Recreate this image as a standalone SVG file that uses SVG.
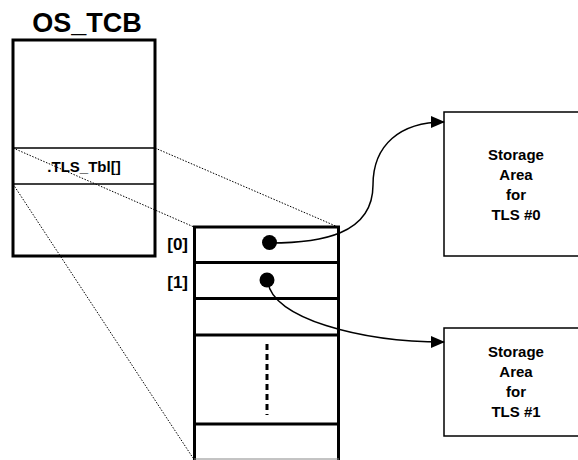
<svg xmlns="http://www.w3.org/2000/svg" width="578" height="460" viewBox="0 0 578 460">
<style>
text{font-family:"Liberation Sans",Arial,sans-serif;font-weight:bold;fill:#000}
.thick{fill:none;stroke:#000;stroke-width:3}
.thin{fill:none;stroke:#000;stroke-width:1.5}
.dot{fill:none;stroke:#000;stroke-width:1;stroke-dasharray:1.5 1.5}
.conn{fill:none;stroke:#000;stroke-width:1.5}
.lbl{font-size:15px;text-anchor:middle}
</style>
<defs>
<marker id="arr" markerWidth="14" markerHeight="12" refX="13" refY="6" orient="auto" markerUnits="userSpaceOnUse">
<path d="M0,0 L14,6 L0,12 Z" fill="#000"/>
</marker>
</defs>
<rect width="578" height="460" fill="#fff"/>
<g id="os_tcb">
<text x="87" y="32" font-size="27" text-anchor="middle">OS_TCB</text>
<rect class="thick" x="13" y="40" width="142" height="216"/>
<line class="thin" x1="13" y1="148" x2="155" y2="148"/>
<line class="thin" x1="13" y1="184" x2="155" y2="184"/>
<text x="84" y="172" font-size="15" text-anchor="middle">.TLS_Tbl[]</text>
</g>
<g id="zoom_lines">
<line class="dot" x1="13" y1="148" x2="194" y2="227"/>
<line class="dot" x1="155" y1="148" x2="338" y2="227"/>
<line class="dot" x1="13" y1="184" x2="193" y2="458"/>
</g>
<g id="tls_table">
<line class="thick" x1="194.5" y1="227" x2="194.5" y2="460"/>
<line class="thick" x1="338.5" y1="227" x2="338.5" y2="460"/>
<line class="thick" x1="193" y1="227" x2="340" y2="227"/>
<line class="thick" x1="194" y1="262.5" x2="339" y2="262.5"/>
<line class="thick" x1="194" y1="298.5" x2="339" y2="298.5"/>
<line class="thick" x1="194" y1="335" x2="339" y2="335"/>
<line class="thick" x1="194" y1="424" x2="339" y2="424"/>
<line x1="194" y1="459" x2="339" y2="459" stroke="#888" stroke-width="1"/>
<line x1="267" y1="344" x2="267" y2="415" stroke="#000" stroke-width="3" stroke-dasharray="6 4"/>
<text x="188" y="250" font-size="17" text-anchor="end">[0]</text>
<text x="188" y="288" font-size="17" text-anchor="end">[1]</text>
<circle cx="269.5" cy="242.5" r="7.5" fill="#000"/>
<circle cx="267" cy="280" r="7.5" fill="#000"/>
</g>
<g id="storage0">
<rect class="thin" x="444" y="112" width="140" height="144"/>
<text class="lbl" x="516" y="160">Storage</text>
<text class="lbl" x="516" y="180">Area</text>
<text class="lbl" x="516" y="200">for</text>
<text class="lbl" x="516" y="220">TLS #0</text>
</g>
<g id="storage1">
<rect class="thin" x="444" y="328" width="140" height="108"/>
<text class="lbl" x="516" y="357">Storage</text>
<text class="lbl" x="516" y="377">Area</text>
<text class="lbl" x="516" y="397">for</text>
<text class="lbl" x="516" y="417">TLS #1</text>
</g>
<g id="connectors">
<path class="conn" d="M270,243 C320,243 373,235 373,185 C373,145 400,122 444,122" marker-end="url(#arr)"/>
<path class="conn" d="M268,282 C272,318 360,342 444,342" marker-end="url(#arr)"/>
</g>
</svg>
